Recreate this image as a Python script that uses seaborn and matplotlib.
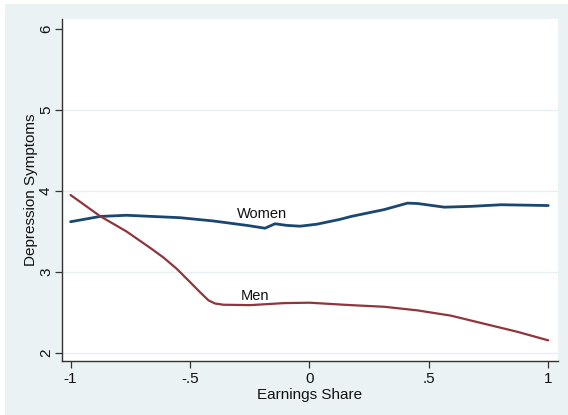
import matplotlib
matplotlib.use("Agg")
import matplotlib.pyplot as plt
import seaborn as sns
import pandas as pd
from matplotlib.patches import Rectangle

# Smoothed depression symptoms by earnings share
women_x = [-1.0, -0.877, -0.766, -0.655, -0.542, -0.404, -0.262, -0.186, -0.144,
           -0.095, -0.039, 0.032, 0.129, 0.174, 0.313, 0.411, 0.453, 0.565, 0.677, 0.803, 1.0]
women_y = [3.62, 3.685, 3.70, 3.685, 3.67, 3.63, 3.575, 3.54, 3.595,
           3.575, 3.565, 3.59, 3.65, 3.685, 3.77, 3.85, 3.845, 3.80, 3.81, 3.83, 3.82]

men_x = [-1.0, -0.877, -0.766, -0.668, -0.612, -0.556, -0.50, -0.458, -0.423, -0.395,
         -0.36, -0.249, -0.106, 0.0, 0.174, 0.313, 0.453, 0.593, 0.732, 0.872, 1.0]
men_y = [3.95, 3.69, 3.50, 3.30, 3.18, 3.04, 2.875, 2.75, 2.65, 2.61,
         2.595, 2.59, 2.615, 2.62, 2.59, 2.57, 2.525, 2.46, 2.36, 2.26, 2.155]

x_ticks = [-1, -0.5, 0, 0.5, 1]
x_tick_labels = ["-1", "-.5", "0", ".5", "1"]
y_ticks = [2, 3, 4, 5, 6]
y_tick_labels = ["2", "3", "4", "5", "6"]

df = pd.concat([
    pd.DataFrame({"share": women_x, "symptoms": women_y, "group": "Women"}),
    pd.DataFrame({"share": men_x, "symptoms": men_y, "group": "Men"}),
])

sns.set_theme(style="white")
plt.rcParams["font.family"] = ["Liberation Sans", "DejaVu Sans"]

W, H = 568, 415
fig = plt.figure(figsize=(W / 100, H / 100), dpi=100)
fig.patch.set_facecolor("white")
fig.patches.append(Rectangle((5 / W, 0), 1 - 5 / W, 1 - 4 / H, transform=fig.transFigure,
                             facecolor="#eaf2f3", edgecolor="none", zorder=-10))

ax = fig.add_axes([62 / W, 1 - 361 / H, (558 - 62) / W, (361 - 19) / H])
ax.set_facecolor("white")

for y in y_ticks[:-1]:
    ax.axhline(y, color="#e8eff1", lw=1.0, zorder=0)

sns.lineplot(data=df, x="share", y="symptoms", hue="group", sort=False,
             palette={"Women": "#1a476f", "Men": "#90353b"},
             hue_order=["Women", "Men"], legend=False, ax=ax, zorder=3)
for line, lw in zip(ax.lines[-2:], [2.0, 1.6]):
    line.set_linewidth(lw)
    line.set_solid_joinstyle("round")

ax.text(-0.20, 3.72, "Women", ha="center", va="center", fontsize=10.5, color="#111111")
ax.text(-0.228, 2.70, "Men", ha="center", va="center", fontsize=10.5, color="#111111")

ax.set_xlim(-1.036, 1.041)
ax.set_ylim(1.90, 6.124)
ax.set_xticks(x_ticks)
ax.set_xticklabels(x_tick_labels)
ax.set_yticks(y_ticks)
ax.set_yticklabels(y_tick_labels, rotation=90, va="center")
ax.tick_params(axis="both", which="both", direction="out", length=5, width=0.9,
               color="#333333", labelsize=11, labelcolor="#111111", pad=3,
               bottom=True, left=True)
ax.tick_params(axis="y", pad=1.5)
ax.set_xlabel("Earnings Share", fontsize=11, color="#111111", labelpad=1)
ax.set_ylabel("Depression Symptoms", fontsize=11, color="#111111", labelpad=1)

for side in ["top", "right"]:
    ax.spines[side].set_visible(False)
for side in ["left", "bottom"]:
    ax.spines[side].set_color("#333333")
    ax.spines[side].set_linewidth(1.0)

fig.savefig("out.png", dpi=100, facecolor=fig.get_facecolor())
